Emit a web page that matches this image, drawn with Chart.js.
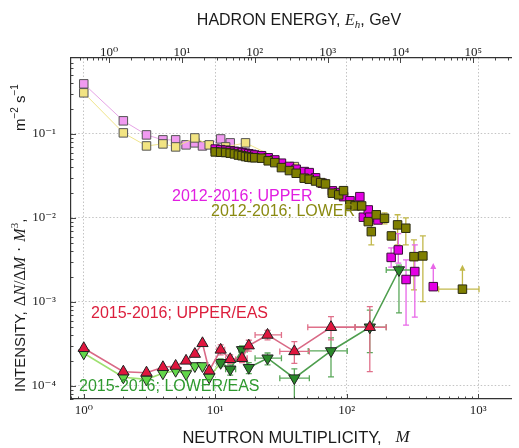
<!DOCTYPE html>
<html><head><meta charset="utf-8">
<script src="https://cdn.jsdelivr.net/npm/chart.js@4.4.1/dist/chart.umd.min.js"></script>
<style>html,body{margin:0;padding:0;background:#fff;overflow:hidden}</style>
</head><body>
<canvas id="c" width="519" height="448"></canvas>
<script>
// ---------------- DATA ----------------
// 2012-2016 UPPER, low multiplicity (light pink)
const pinkM = [1, 2, 3, 4, 5, 6, 7, 8, 11, 13];
const pinkI = [0.394, 0.143, 0.0973, 0.0849, 0.0849, 0.0740, 0.0782, 0.0719, 0.0871, 0.0782];
// 2012-2016 LOWER, low multiplicity (light yellow)
const khakiM = [1, 2, 3, 4, 5, 7, 9, 12, 17, 40];
const khakiI = [0.308, 0.1028, 0.0719, 0.0760, 0.0700, 0.0895, 0.0740, 0.0700, 0.0782, 0.0408];
// 2012-2016; UPPER (magenta)
const upperM = [10, 11, 12, 13, 14, 15, 16, 17, 18, 19, 20, 22.5, 25.3, 28.4, 31.9, 36.7, 41.3, 47.6, 51.9, 58, 65.3, 77.8, 87, 94.8, 106, 126, 134, 146, 150, 173, 218, 247, 283, 330, 456];
const upperI = [0.066, 0.065, 0.064, 0.063, 0.062, 0.061, 0.060, 0.059, 0.058, 0.057, 0.056, 0.055, 0.052, 0.049, 0.0448, 0.041, 0.038, 0.0356, 0.0346, 0.030, 0.0259, 0.021, 0.020, 0.0179, 0.016, 0.0179, 0.0102, 0.01245, 0.0102, 0.00946, 0.00339, 0.00416, 0.00185, 0.00230, 0.00152];
// 2012-2016; LOWER (olive)
const lowerM = [10, 11, 12, 13, 14, 15, 16, 17, 18, 19, 20, 22.5, 25.3, 28.4, 31.9, 36.7, 41.3, 47.5, 51.9, 58, 63.4, 69, 77.8, 87, 94.6, 106, 116, 130, 146, 154, 168, 194, 219, 244, 282, 325, 380, 760];
const lowerI = [0.061, 0.0605, 0.060, 0.059, 0.0578, 0.056, 0.055, 0.0537, 0.0529, 0.0523, 0.052, 0.0514, 0.0478, 0.0455, 0.0397, 0.0366, 0.0340, 0.0297, 0.0289, 0.0275, 0.0263, 0.0254, 0.0197, 0.0188, 0.0211, 0.0143, 0.0139, 0.0139, 0.00904, 0.00687, 0.0109, 0.0099, 0.00611, 0.00826, 0.00754, 0.00346, 0.00353, 0.00142];
// 2015-2016; UPPER/EAS
const upperEasM = [1, 2, 3, 4, 5, 6, 7, 8, 9, 11, 13, 16, 18, 25, 40, 76, 150];
const upperEasI = [2.81e-4, 1.48e-4, 1.44e-4, 1.67e-4, 1.73e-4, 1.99e-4, 2.40e-4, 3.22e-4, 1.52e-4, 2.69e-4, 2.08e-4, 2.14e-4, 3.02e-4, 4.05e-4, 2.58e-4, 5.0e-4, 5.0e-4];
// 2015-2016; LOWER/EAS
const lowerEasM = [1, 2, 3, 4, 5, 6, 7, 8, 9, 11, 13, 16, 18, 25, 40, 76, 150, 250];
const lowerEasI = [2.45e-4, 1.27e-4, 1.20e-4, 1.42e-4, 1.52e-4, 1.39e-4, 1.73e-4, 1.73e-4, 1.27e-4, 1.89e-4, 1.58e-4, 2.69e-4, 1.65e-4, 2.14e-4, 1.24e-4, 2.61e-4, 5.0e-4, 2.4e-3];

// error bars: [M, I_low, I_high, M_low, M_high]
const upperErr = [[173, 0.0088, 0.0102, null, null], [218, 0.0026, 0.0044, null, null], [247, 0.0029, 0.0065, null, null], [283, 0.00053, 0.00316, null, null], [330, 0.00066, 0.00477, null, null], [456, null, null, 434, 480]];
const lowerErr = [[154, 0.00477, 0.00826, null, null], [194, 0.0085, 0.0115, null, null], [244, 0.00477, 0.0109, null, null], [282, 0.00477, 0.0100, null, null], [325, 0.00139, 0.00547, null, null], [380, 0.00101, 0.0061, null, null], [760, null, null, 501, 1016]];
const upperEasErr = [[11, 2.34e-4, 3.08e-4, 10.3, 11.8], [13, 1.86e-4, 2.34e-4, 12, 14.3], [16, 1.9e-4, 2.4e-4, 15.1, 17.5], [18, 2.6e-4, 3.5e-4, null, null], [25, 3.53e-4, 4.6e-4, 20.1, 31.9], [40, 1.86e-4, 3.37e-4, 31, 52], [76, 3.53e-4, 6.7e-4, 50.6, 116], [150, 1.48e-4, 8.8e-4, 116, 200]];
const lowerEasErr = [[11, 1.7e-4, 2.1e-4, 10.3, 11.8], [13, 1.35e-4, 1.78e-4, 12, 14.3], [16, 2.4e-4, 3.0e-4, 15.1, 17.5], [18, 1.4e-4, 1.9e-4, null, null], [25, 1.78e-4, 2.47e-4, 20.1, 31.9], [40, 6e-5, 1.6e-4, 31, 52], [76, 1.28e-4, 3.73e-4, 51, 101], [150, 2.5e-4, 8e-4, 116, 200], [250, 7.4e-4, 2.75e-3, 200, 306]];
// lower limits (arrows): [M, arrow tip I]
const upperLimits = [[456, 0.0029]];
const lowerLimits = [[760, 0.00277]];

// axis ranges / tick labels
const xRange = [0.7994, 1795];
const x2Range = [0.318, 3.34e5];
const yRange = [7.0e-5, 0.80];
const labels = ['2012-2016; UPPER', '2012-2016; LOWER', '2015-2016; UPPER/EAS', '2015-2016; LOWER/EAS'];

// ---------------- HELPERS ----------------
const SUP = {'-': '\u207B', '0': '\u2070', '1': '\u00B9', '2': '\u00B2', '3': '\u00B3', '4': '\u2074', '5': '\u2075', '6': '\u2076'};
const isDec = v => Math.abs(Math.log10(v) - Math.round(Math.log10(v))) < 1e-6;
const decLabel = v => isDec(v) ? '10' + String(Math.round(Math.log10(v))).split('').map(c => SUP[c]).join('') : '';
const xy = (M, I) => M.map((m, i) => ({x: m, y: I[i]}));
const SERIF = '"Liberation Serif", "DejaVu Serif", serif';
const SANS = '"Liberation Sans", Arial, sans-serif';

const gridCfg = {
  color: c => (c.tick && isDec(c.tick.value)) ? '#c4c4c4' : 'rgba(0,0,0,0)',
  lineWidth: 1, drawTicks: false
};
const borderCfg = {display: true, color: '#333', width: 1.2, dash: [1.5, 2]};
const tickFont = {family: SERIF, size: 13};

const errSets = [
  {M: lowerM, I: lowerI, err: lowerErr, lim: lowerLimits, color: '#c2b84a'},
  {M: upperM, I: upperI, err: upperErr, lim: upperLimits, color: '#e866e8'},
  {M: lowerEasM, I: lowerEasI, err: lowerEasErr, lim: [], color: '#5aa85a'},
  {M: upperEasM, I: upperEasI, err: upperEasErr, lim: [], color: '#e0708a'}
];

const errPlugin = {
  id: 'errbars',
  beforeDatasetsDraw(chart) {
    const ctx = chart.ctx, xs = chart.scales.x, ys = chart.scales.y, a = chart.chartArea;
    ctx.save();
    ctx.beginPath(); ctx.rect(a.left, a.top, a.right - a.left, a.bottom - a.top); ctx.clip();
    const seg = (x1, y1, x2, y2) => { ctx.beginPath(); ctx.moveTo(x1, y1); ctx.lineTo(x2, y2); ctx.stroke(); };
    for (const s of errSets) {
      ctx.strokeStyle = s.color; ctx.fillStyle = s.color; ctx.lineWidth = 1.3;
      for (const e of s.err) {
        const i = s.M.indexOf(e[0]);
        const x = xs.getPixelForValue(e[0]), y = ys.getPixelForValue(s.I[i]);
        if (e[1] != null) {
          const y1 = ys.getPixelForValue(e[1]), y2 = ys.getPixelForValue(e[2]);
          seg(x, y1, x, y2); seg(x - 3, y1, x + 3, y1); seg(x - 3, y2, x + 3, y2);
        }
        if (e[3] != null) {
          const x1 = xs.getPixelForValue(e[3]), x2 = xs.getPixelForValue(e[4]);
          seg(x1, y, x2, y); seg(x1, y - 3, x1, y + 3); seg(x2, y - 3, x2, y + 3);
        }
      }
      for (const l of s.lim) {
        const i = s.M.indexOf(l[0]);
        const x = xs.getPixelForValue(l[0]), y = ys.getPixelForValue(s.I[i]), yt = ys.getPixelForValue(l[1]);
        seg(x, y, x, yt + 4);
        ctx.beginPath(); ctx.moveTo(x, yt); ctx.lineTo(x - 3, yt + 6); ctx.lineTo(x + 3, yt + 6); ctx.closePath(); ctx.fill();
      }
    }
    ctx.restore();
  }
};

// draw a run of text pieces; start = offset along the baseline where the run begins
function run(ctx, segs, ox, oy, rot, start, center) {
  ctx.save(); ctx.translate(ox, oy); ctx.rotate(rot || 0);
  let total = 0;
  for (const s of segs) { ctx.font = s.f; s.w = ctx.measureText(s.t).width; total += s.w + (s.gap || 0); }
  let x = center ? start - total / 2 : start;
  ctx.textBaseline = 'middle'; ctx.textAlign = 'left';
  for (const s of segs) { ctx.font = s.f; ctx.fillStyle = s.c || '#1a1a1a'; ctx.fillText(s.t, x, s.dy || 0); x += s.w + (s.gap || 0); }
  ctx.restore();
}

const decorPlugin = {
  id: 'decor',
  afterDatasetsDraw(chart) {
    const ctx = chart.ctx;
    ctx.save();
    ctx.font = '16px ' + SANS; ctx.textBaseline = 'middle'; ctx.textAlign = 'left';
    ctx.fillStyle = '#e11ee1'; ctx.fillText(labels[0], 172, 197);
    ctx.fillStyle = '#8a8a12'; ctx.fillText(labels[1], 211, 212);
    ctx.fillStyle = '#dc1e3c'; ctx.fillText(labels[2], 91, 314);
    ctx.fillStyle = '#2f9a2f'; ctx.fillText(labels[3], 79, 387);
    ctx.restore();
  },
  afterDraw(chart) {
    const ctx = chart.ctx, a = chart.chartArea;
    const xs = chart.scales.x, x2 = chart.scales.x2, ys = chart.scales.y;
    // inward tick marks
    ctx.save(); ctx.strokeStyle = '#333'; ctx.lineWidth = 0.9;
    const tk = (x1, y1, x2_, y2) => { ctx.beginPath(); ctx.moveTo(x1, y1); ctx.lineTo(x2_, y2); ctx.stroke(); };
    for (let n = -1; n <= 6; n++) for (let k = 1; k <= 9; k++) {
      const v = k * Math.pow(10, n), L = k === 1 ? 5 : 2.5;
      if (v > xRange[0] && v < xRange[1]) { const p = Math.round(xs.getPixelForValue(v)) + 0.5; tk(p, a.bottom, p, a.bottom - L); }
      if (v > x2Range[0] && v < x2Range[1]) { const p = Math.round(x2.getPixelForValue(v)) + 0.5; tk(p, a.top, p, a.top + L); }
    }
    for (let n = -5; n <= 0; n++) for (let k = 1; k <= 9; k++) {
      const v = k * Math.pow(10, n), L = k === 1 ? 5 : 2.5;
      if (v > yRange[0] && v < yRange[1]) { const p = Math.round(ys.getPixelForValue(v)) + 0.5; tk(a.left, p, a.left + L, p); }
    }
    ctx.restore();
    // axis titles
    run(ctx, [
      {t: 'HADRON ENERGY, ', f: '16px ' + SANS},
      {t: 'E', f: 'italic 16px ' + SERIF},
      {t: 'h', f: 'italic 11px ' + SERIF, dy: 4},
      {t: ', GeV', f: '16px ' + SANS}
    ], 299, 21, 0, 0, true);
    run(ctx, [
      {t: 'NEUTRON MULTIPLICITY,   ', f: '16.5px ' + SANS},
      {t: 'M', f: 'italic 17px ' + SERIF}
    ], 296, 438, 0, 0, true);
    // left title: rotated, three groups placed along the axis (start = 448 - screen y)
    const R = -Math.PI / 2;
    run(ctx, [{t: 'INTENSITY,', f: '15px ' + SANS}], 21, 448, R, 448 - 392, false);
    run(ctx, [
      {t: '\u0394', f: '16px ' + SERIF},
      {t: 'N', f: 'italic 16px ' + SERIF},
      {t: '/\u0394', f: '16px ' + SERIF},
      {t: 'M', f: 'italic 16px ' + SERIF, gap: 5},
      {t: '\u00B7', f: '16px ' + SERIF, gap: 5},
      {t: 'M', f: 'italic 16px ' + SERIF},
      {t: '3', f: '11px ' + SERIF, dy: -6},
      {t: ',', f: '15px ' + SANS}
    ], 21, 448, R, 448 - 306, false);
    run(ctx, [
      {t: 'm', f: '15px ' + SANS},
      {t: '\u22122', f: '10px ' + SANS, dy: -6, gap: 4},
      {t: 's', f: '15px ' + SANS},
      {t: '\u22121', f: '10px ' + SANS, dy: -6}
    ], 21, 448, R, 448 - 131, false);
  }
};

const sq = (fill, border) => ({pointStyle: 'rect', pointRadius: 6, pointHoverRadius: 6, pointBackgroundColor: fill, pointBorderColor: border, pointBorderWidth: 1});

new Chart(document.getElementById('c'), {
  type: 'scatter',
  data: {
    datasets: [
      {label: labels[2], data: xy(upperEasM, upperEasI), showLine: true, borderColor: '#d96a86', borderWidth: 1.6,
        pointStyle: 'triangle', pointRadius: 6.5, pointHoverRadius: 6.5, pointBackgroundColor: '#e0163e', pointBorderColor: '#222', pointBorderWidth: 1, order: 0},
      {label: labels[3], data: xy(lowerEasM, lowerEasI), showLine: true, borderColor: '#4e9e4e', borderWidth: 1.6,
        segment: {borderColor: c => c.p0.parsed.x < 10 ? '#9ee070' : '#4e9e4e'},
        pointStyle: 'triangle', rotation: 180, pointRadius: 6.5, pointHoverRadius: 6.5,
        pointBackgroundColor: lowerEasM.map(m => m < 10 ? '#62d64a' : '#2a8a2a'), pointBorderColor: '#222', pointBorderWidth: 1, order: 1},
      Object.assign({label: labels[1], data: xy(lowerM, lowerI), showLine: false, order: 2}, sq('#7f7f00', '#2a2a10')),
      Object.assign({label: labels[0], data: xy(upperM, upperI), showLine: false, order: 3}, sq('#e400e4', '#3a103a')),
      Object.assign({label: 'lower-low', data: xy(khakiM, khakiI), showLine: true, borderColor: '#efe48a', borderWidth: 1, order: 4}, sq('#f2e482', '#555')),
      Object.assign({label: 'upper-low', data: xy(pinkM, pinkI), showLine: true, borderColor: '#e6a4e6', borderWidth: 1, order: 5}, sq('#f09af0', '#555'))
    ]
  },
  options: {
    responsive: false, animation: false, devicePixelRatio: 1,
    layout: {padding: 0},
    plugins: {legend: {display: false}, tooltip: {enabled: false}},
    scales: {
      x: {type: 'logarithmic', position: 'bottom', min: xRange[0], max: xRange[1],
        grid: gridCfg, border: borderCfg,
        ticks: {autoSkip: false, maxRotation: 0, minRotation: 0, padding: 4, color: '#222', font: tickFont, callback: v => decLabel(v)},
        afterFit: s => { s.height = 49; s.paddingLeft = 0; s.paddingRight = 0; }},
      x2: {type: 'logarithmic', position: 'top', min: x2Range[0], max: x2Range[1],
        grid: {display: false, drawTicks: false}, border: {display: true, color: '#333', width: 1.2},
        ticks: {autoSkip: false, maxRotation: 0, minRotation: 0, padding: -2, color: '#222', font: tickFont, callback: v => decLabel(v)},
        afterFit: s => { s.height = 58; s.paddingLeft = 0; s.paddingRight = 0; }},
      y: {type: 'logarithmic', position: 'left', min: yRange[0], max: yRange[1],
        grid: gridCfg, border: borderCfg,
        ticks: {autoSkip: false, padding: 15, color: '#222', font: tickFont, callback: v => decLabel(v)},
        afterFit: s => { s.width = 71; s.paddingTop = 0; s.paddingBottom = 0; }}
    }
  },
  plugins: [errPlugin, decorPlugin]
});
</script>
</body></html>
